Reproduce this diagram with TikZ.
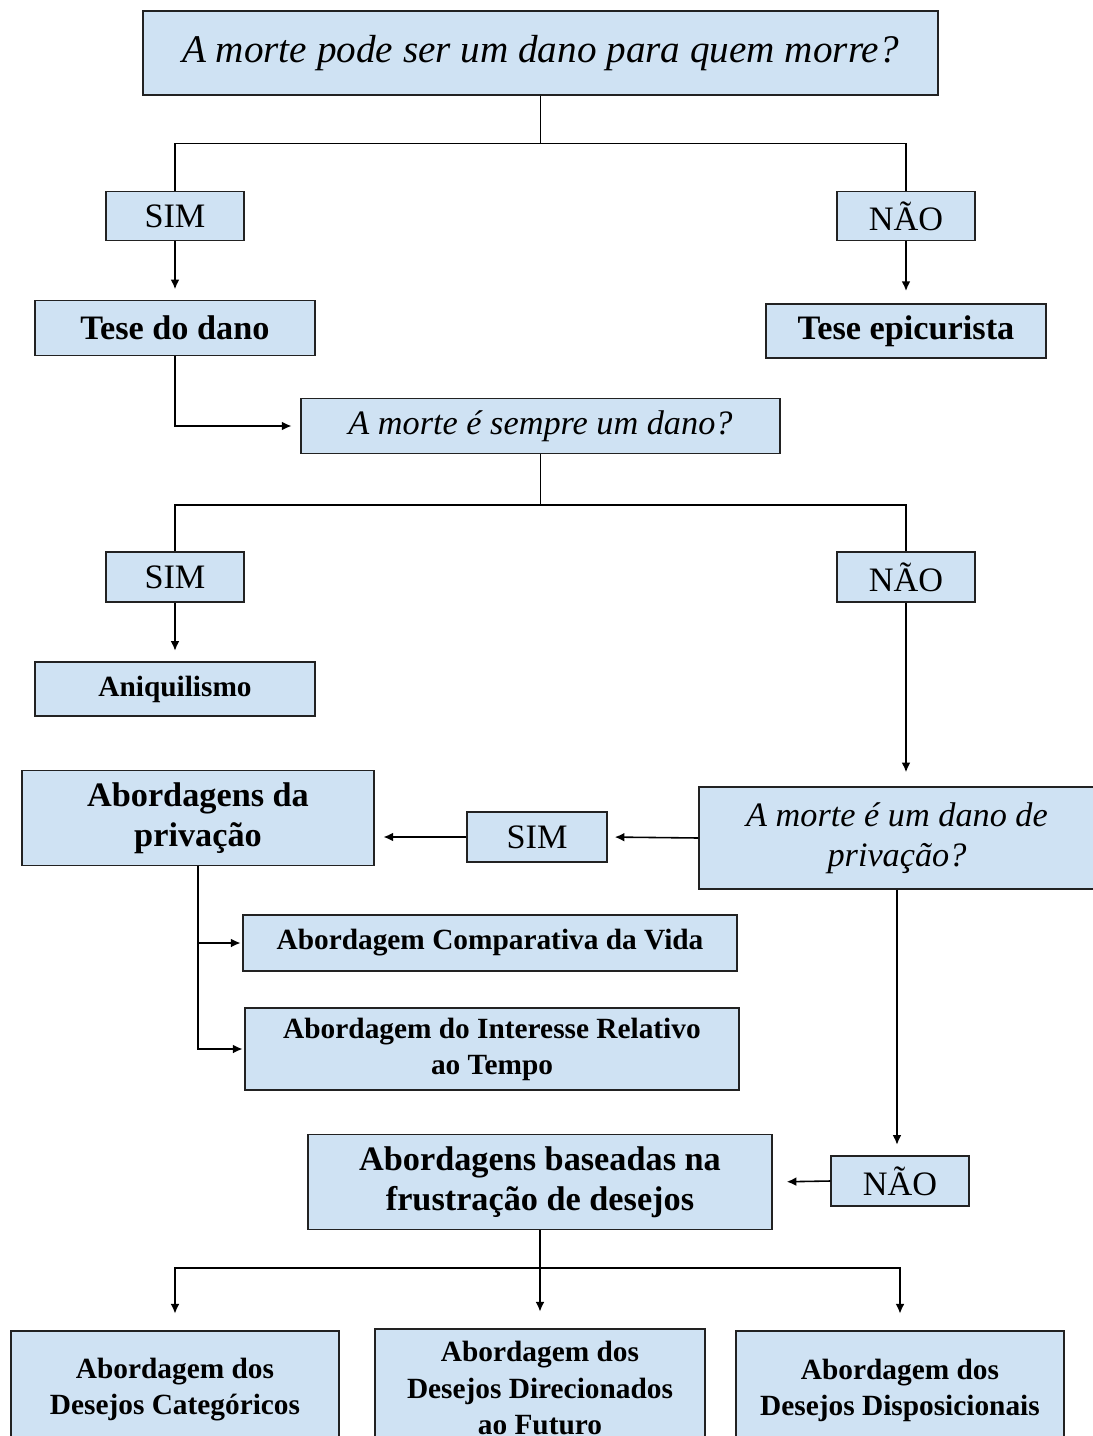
\documentclass[tikz,border=0pt]{standalone}
\usepackage{fontspec}
\setmainfont{Liberation Serif}
\usepackage{tikz}
\usetikzlibrary{arrows.meta, calc}
\definecolor{BoxBlue}{HTML}{CFE2F3}
\definecolor{EdgeGray}{HTML}{222222}

\begin{document}
\begin{tikzpicture}[
    x=0.02cm, y=-0.02cm,
    box/.style={rectangle, draw=EdgeGray, fill=BoxBlue, line width=0.8pt, inner sep=0pt,
                align=center, text=black},
    bigq/.style={box, font=\fontsize{22.3}{26}\selectfont\itshape},
    question/.style={box, font=\fontsize{19.5}{23}\selectfont\itshape},
    answer/.style={box, minimum width=2.76cm, minimum height=0.98cm, font=\fontsize{19.5}{23}\selectfont},
    thesis/.style={box, font=\fontsize{19.5}{23}\selectfont\bfseries},
    approach/.style={box, font=\fontsize{16.7}{20.5}\selectfont\bfseries},
    link/.style={line width=0.9pt, draw=black},
    arrow/.style={link, -{Latex[length=5.5pt,width=5pt]}}
]
    \useasboundingbox (0,0) rectangle (1092,1436);

    % Main question
    \node[bigq, minimum width=15.9cm, minimum height=1.68cm] (main) at (540.5,53) {A morte pode ser um dano para quem morre?};

    % First answers
    \node[answer] (sim1) at (175,216) {SIM};
    \node[answer] (nao1) at (906,216) {NÃO};
    \node[thesis, minimum width=5.6cm, minimum height=1.1cm] (dano) at (175,328) {Tese do dano};
    \node[thesis, minimum width=5.6cm, minimum height=1.08cm] (epicuro) at (906,331) {Tese epicurista};

    % Second question
    \node[question, minimum width=9.58cm, minimum height=1.1cm] (sempre) at (540.5,426) {A morte é sempre um dano?};
    \node[answer, minimum height=1cm] (sim2) at (175,577) {SIM};
    \node[answer, minimum height=1cm] (nao2) at (906,577) {NÃO};
    \node[approach, minimum width=5.6cm, minimum height=1.08cm] (aniq) at (175,689) {Aniquilismo};

    % Third question
    \node[question, minimum width=7.92cm, minimum height=2.04cm] (privq) at (897,838) {A morte é um dano de\\privação?};
    \node[answer, minimum width=2.8cm, minimum height=1cm] (sim3) at (537,837) {SIM};
    \node[thesis, minimum width=7.04cm, minimum height=1.9cm] (privacao) at (198,818) {Abordagens da\\privação};
    \node[approach, minimum width=9.88cm, minimum height=1.12cm] (comparativa) at (490,943) {Abordagem Comparativa da Vida};
    \node[approach, minimum width=9.88cm, minimum height=1.64cm] (interesse) at (492,1049) {Abordagem do Interesse Relativo\\ao Tempo};
    \node[answer, minimum height=1cm] (nao3) at (900,1181) {NÃO};
    \node[thesis, minimum width=9.28cm, minimum height=1.9cm] (frustracao) at (540,1182) {Abordagens baseadas na\\frustração de desejos};

    % Desire approaches
    \node[approach, minimum width=6.56cm, minimum height=2.36cm] (categoricos) at (175,1390) {Abordagem dos\\Desejos Categóricos};
    \node[approach, minimum width=6.6cm, minimum height=2.36cm] (futuro) at (540,1388) {Abordagem dos\\Desejos Direcionados\\ao Futuro};
    \node[approach, minimum width=6.56cm, minimum height=2.36cm] (disposicionais) at (900,1390) {Abordagem dos\\Desejos Disposicionais};

    % Connectors
    \draw[link] (main.south) -- ++(0,48) -| (sim1.north);
    \draw[link] (main.south) -- ++(0,48) -| (nao1.north);
    \draw[arrow, shorten >=6pt] (sim1.south) -- (dano.north);
    \draw[arrow, shorten >=7pt] (nao1.south) -- (epicuro.north);
    \draw[arrow, shorten >=5pt] (dano.south) |- (sempre.west);

    \draw[link] (sempre.south) -- ++(0,51) -| (sim2.north);
    \draw[link] (sempre.south) -- ++(0,51) -| (nao2.north);
    \draw[arrow, shorten >=6pt] (sim2.south) -- (aniq.north);
    \draw[arrow, shorten >=8pt] (nao2.south) -- (nao2.south |- privq.north);

    \draw[arrow, shorten >=4pt] (privq.west) -- (sim3.east);
    \draw[arrow, shorten >=5pt] (sim3.west) -- (sim3.west -| privacao.east);
    \draw[arrow, shorten >=1pt] (privacao.south) |- (comparativa.west);
    \draw[arrow, shorten >=1pt] (privacao.south) |- (interesse.west);

    \draw[arrow, shorten >=6pt] (privq.south) -- (privq.south |- nao3.north);
    \draw[arrow, shorten >=8pt] (nao3.west) -- (frustracao.east);

    \coordinate (fork) at ($(frustracao.south)+(0,38)$);
    \draw[arrow, shorten >=9.5pt] (frustracao.south) -- (futuro.north);
    \draw[arrow, shorten >=9.5pt] (fork) -| (categoricos.north);
    \draw[arrow, shorten >=9.5pt] (fork) -| (disposicionais.north);
\end{tikzpicture}
\end{document}
